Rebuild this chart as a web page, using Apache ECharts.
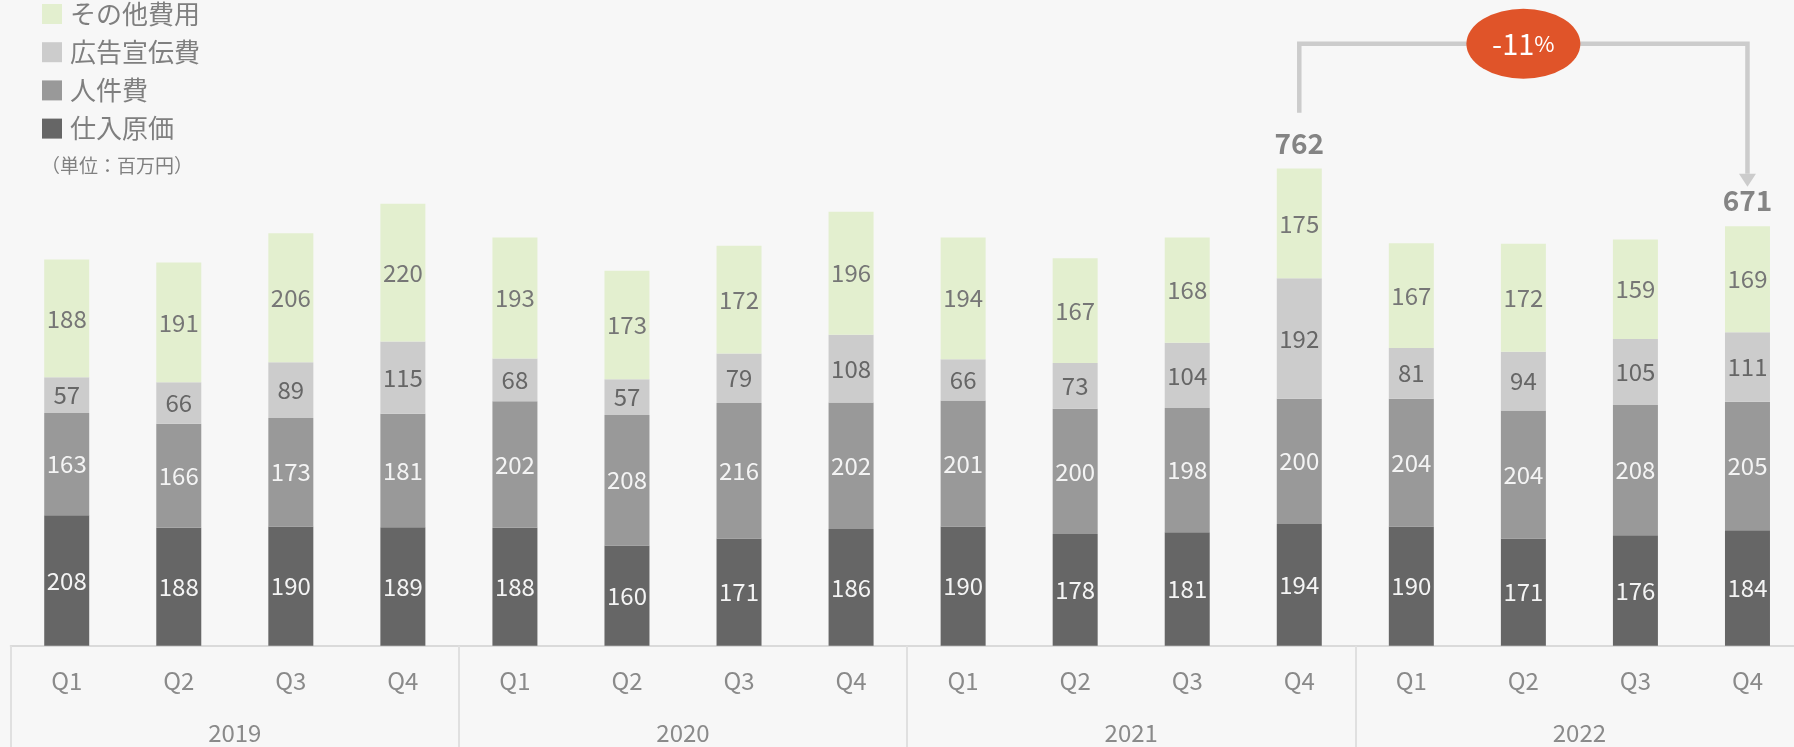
<!DOCTYPE html>
<html>
<head>
<meta charset="utf-8">
<script src="https://cdn.jsdelivr.net/npm/echarts@6/dist/echarts.min.js"></script>
<style>
html,body{margin:0;padding:0;background:#f7f7f7;overflow:hidden;width:1794px;height:747px;}
#c{width:1804px;height:747px;}
</style>
</head>
<body>
<div id="c"></div>
<script>
const quarters = ['Q1','Q2','Q3','Q4','Q1','Q2','Q3','Q4','Q1','Q2','Q3','Q4','Q1','Q2','Q3','Q4'];
const years = ['2019','2020','2021','2022'];
const seriesNames = ['仕入原価','人件費','広告宣伝費','その他費用'];
const costOfGoods = [208,188,190,189,188,160,171,186,190,178,181,194,190,171,176,184];
const personnel   = [163,166,173,181,202,208,216,202,201,200,198,200,204,204,208,205];
const advertising = [57,66,89,115,68,57,79,108,66,73,104,192,81,94,105,111];
const otherCosts  = [188,191,206,220,193,173,172,196,194,167,168,175,167,172,159,169];
const totalLabels = ['-','-','-','-','-','-','-','-','-','-','-',762,'-','-','-',671];
const changeText = '-11';
// annotation anchors (value space)
const bracketFrom = 11, bracketTo = 15;
const bracketTopVal = 960, bracketLeftStartVal = 850, arrowEndVal = 732;

const FONT = '"Noto Sans CJK JP", "Noto Sans", sans-serif';
const colors = ['#666666','#999999','#cccccc','#e3efcf'];
const labelColors = ['#f4f4f4','#f4f4f4','#666666','#767676'];
const dataSets = [costOfGoods, personnel, advertising, otherCosts];

const chart = echarts.init(document.getElementById('c'));
const series = dataSets.map((d, i) => ({
  name: seriesNames[i],
  type: 'bar',
  stack: 'cost',
  barWidth: 45,
  data: d,
  itemStyle: { color: colors[i] },
  label: { show: true, position: 'inside', fontFamily: FONT, fontSize: 24, color: labelColors[i] },
  emphasis: { disabled: true }
}));
series.push({
  name: 'total',
  type: 'scatter',
  data: totalLabels,
  symbolSize: 1,
  itemStyle: { color: 'rgba(0,0,0,0)' },
  label: { show: true, position: 'top', distance: 10, fontFamily: FONT, fontSize: 28, fontWeight: 'bold', color: '#666666' },
  silent: true
});

chart.setOption({
  backgroundColor: '#f7f7f7',
  animation: false,
  title: {
    text: '（単位：百万円）', left: 36, top: 151,
    textStyle: { fontFamily: FONT, fontSize: 19, fontWeight: 'normal', color: '#808080' }
  },
  legend: {
    data: ['その他費用','広告宣伝費','人件費','仕入原価'],
    orient: 'vertical', left: 37, top: -4,
    icon: 'rect', itemWidth: 20, itemHeight: 20, itemGap: 12.2,
    textStyle: { fontFamily: FONT, fontSize: 26, color: '#7f7f7f', padding: [0,0,0,3] },
    selectedMode: false
  },
  grid: { left: 10.7, top: 18.7, right: 0.5, bottom: 101.3, containLabel: false },
  xAxis: [
    {
      type: 'category', data: quarters, position: 'bottom',
      axisLine: { show: true, lineStyle: { color: '#dadada', width: 2 } },
      axisTick: { show: false },
      axisLabel: { margin: 23, fontFamily: FONT, fontSize: 24, color: '#8a8a8a', interval: 0 }
    },
    {
      type: 'category', data: years, position: 'bottom',
      axisLine: { show: false },
      axisTick: { show: true, interval: 0, length: 102, lineStyle: { color: '#e0e0e0', width: 2 } },
      axisLabel: { margin: 75, fontFamily: FONT, fontSize: 24, color: '#8a8a8a', interval: 0 }
    }
  ],
  yAxis: { type: 'value', min: 0, max: 1000, show: false, splitLine: { show: false } },
  series: series
});

// bracket annotation placed through the chart's scales
const pL = chart.convertToPixel({ xAxisIndex: 0, yAxisIndex: 0 }, [bracketFrom, bracketLeftStartVal]);
const pLT = chart.convertToPixel({ xAxisIndex: 0, yAxisIndex: 0 }, [bracketFrom, bracketTopVal]);
const pR = chart.convertToPixel({ xAxisIndex: 0, yAxisIndex: 0 }, [bracketTo, arrowEndVal]);
const xL = pL[0], xR = pR[0], yTop = pLT[1], yStart = pL[1], yEnd = pR[1];
const headLen = 13, headHalf = 8.5;
const cx = (xL + xR) / 2;
chart.setOption({
  graphic: [
    { type: 'polyline', silent: true,
      shape: { points: [[xL, yStart], [xL, yTop], [xR, yTop], [xR, yEnd - headLen]] },
      style: { stroke: '#cccccc', lineWidth: 4.5, fill: null } },
    { type: 'polygon', silent: true,
      shape: { points: [[xR - headHalf, yEnd - headLen], [xR + headHalf, yEnd - headLen], [xR, yEnd]] },
      style: { fill: '#cccccc' } },
    { type: 'circle', silent: true, x: cx, y: yTop, scaleX: 57 / 35,
      shape: { cx: 0, cy: 0, r: 35 }, style: { fill: '#e05429' } },
    { type: 'text', silent: true, x: cx, y: yTop,
      style: { text: '{a|' + changeText + '}{b|%}', align: 'center', verticalAlign: 'middle',
        rich: { a: { fontFamily: FONT, fontSize: 29, fill: '#ffffff' },
                b: { fontFamily: FONT, fontSize: 22, fill: '#ffffff' } } } }
  ]
});
</script>
</body>
</html>
